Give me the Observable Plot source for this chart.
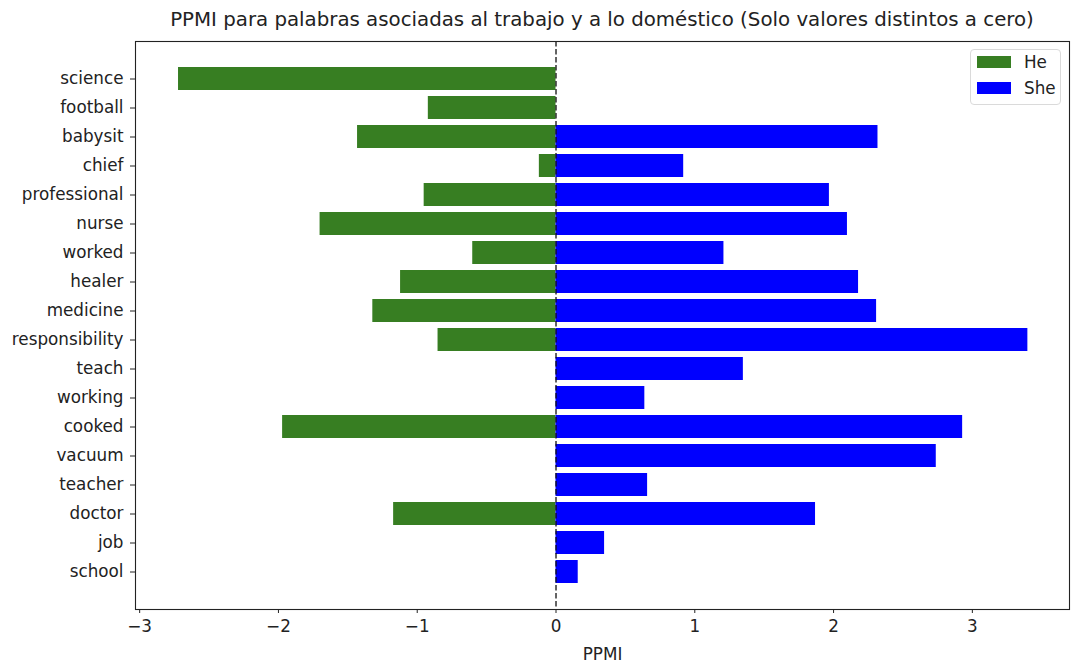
<!DOCTYPE html>
<html>
<head>
<meta charset="utf-8">
<script src="https://cdn.jsdelivr.net/npm/d3@7"></script>
<script src="https://cdn.jsdelivr.net/npm/@observablehq/plot@0.6"></script>
<style>
  html, body { margin: 0; padding: 0; background: #fff; }
  #wrap { position: relative; width: 1074px; height: 663px; font-family: "DejaVu Sans", sans-serif; color: #222; }
  #title { position: absolute; left: 135px; width: 934px; top: 8px; text-align: center; font-size: 19.8px; white-space: nowrap; }
  #legend { position: absolute; left: 970px; top: 49px; width: 91px; height: 56px; border: 1px solid #dadada; border-radius: 4px; background: rgba(255,255,255,0.85); box-sizing: border-box; }
  .item { position: absolute; left: 6px; height: 14px; font-size: 16.8px; }
  .sw { position: absolute; left: 0; top: 0; width: 34px; height: 12px; }
  .lb { position: absolute; left: 47px; top: -3px; line-height: 18px; }
</style>
</head>
<body>
<div id="wrap">
  <div id="chart"></div>
  <div id="title"></div>
  <div id="legend"></div>
</div>
<script>
const titleText = "PPMI para palabras asociadas al trabajo y a lo doméstico (Solo valores distintos a cero)";
const words = ["science","football","babysit","chief","professional","nurse","worked","healer","medicine","responsibility","teach","working","cooked","vacuum","teacher","doctor","job","school"];
const heValues = [-2.72,-0.92,-1.43,-0.12,-0.95,-1.70,-0.60,-1.12,-1.32,-0.85,0,0,-1.97,0,0,-1.17,0,0];
const sheValues = [0,0,2.32,0.92,1.97,2.10,1.21,2.18,2.31,3.40,1.35,0.64,2.93,2.74,0.66,1.87,0.35,0.16];
const seriesNames = ["He","She"];
const seriesColors = ["#377e22","#0000ff"];
const xTicks = [-3,-2,-1,0,1,2,3];

const data = [];
words.forEach((w, i) => {
  if (heValues[i] !== 0) data.push({word: w, value: heValues[i], series: "He"});
  if (sheValues[i] !== 0) data.push({word: w, value: sheValues[i], series: "She"});
});

const chart = Plot.plot({
  width: 1074,
  height: 663,
  marginLeft: 135,
  marginRight: 5,
  marginTop: 41,
  marginBottom: 54,
  style: {fontFamily: "DejaVu Sans, sans-serif", fontSize: "16.8px", color: "#222", background: "white"},
  x: {domain: [-3.03, 3.70]},
  y: {domain: words, paddingInner: 0.2, paddingOuter: 0.89},
  color: {domain: seriesNames, range: seriesColors},
  marks: [
    Plot.barX(data, {x: "value", y: "word", fill: "series"}),
    Plot.ruleX([0], {stroke: "#111", strokeWidth: 1.3, strokeDasharray: "5.5,2.5"}),
    Plot.frame({stroke: "#222", strokeWidth: 1.1}),
    Plot.axisX({ticks: xTicks, tickFormat: "d", tickSize: 4, tickPadding: 7, fontSize: 16.8, label: "PPMI", labelAnchor: "center", labelArrow: "none", labelOffset: 50, stroke: "#222"}),
    Plot.axisY({tickSize: 5, tickPadding: 7, fontSize: 16.8, label: null, stroke: "#222"})
  ]
});
document.getElementById("chart").appendChild(chart);
document.getElementById("title").textContent = titleText;

const legend = document.getElementById("legend");
seriesNames.forEach((name, i) => {
  const item = document.createElement("div");
  item.className = "item";
  item.style.top = (6 + i * 26) + "px";
  const sw = document.createElement("div");
  sw.className = "sw";
  sw.style.background = seriesColors[i];
  const lb = document.createElement("div");
  lb.className = "lb";
  lb.textContent = name;
  item.appendChild(sw);
  item.appendChild(lb);
  legend.appendChild(item);
});
</script>
</body>
</html>
